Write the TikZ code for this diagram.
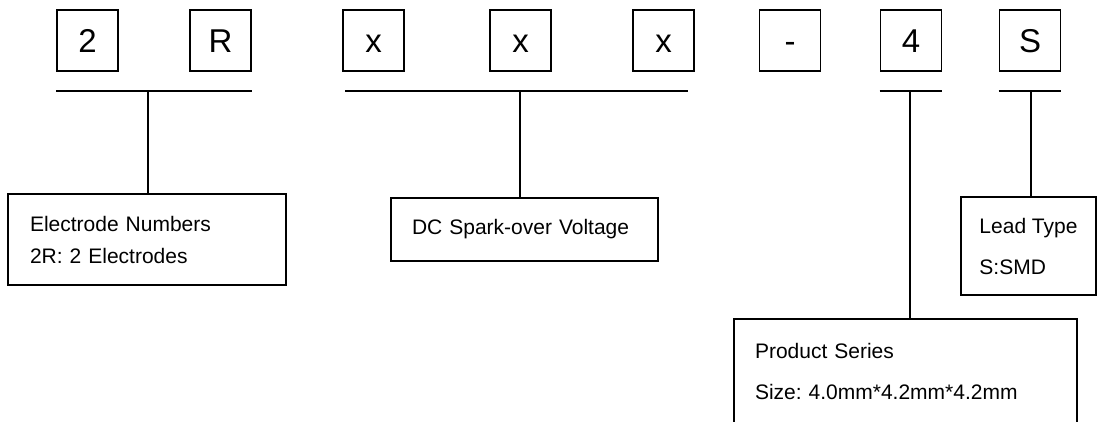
\documentclass[tikz,border=0pt]{standalone}
\usepackage{fontspec}
\setmainfont{Liberation Sans}
\frenchspacing
\usetikzlibrary{positioning, calc}
\tikzset{
    charbox/.style={rectangle, draw=black, line width=1.6pt, minimum width=61pt, minimum height=61pt, inner sep=0pt, text height=24pt, text depth=0pt, text centered, font=\fontsize{33}{40}\selectfont},
    descbox/.style={rectangle, draw=black, line width=1.6pt, align=left, inner ysep=0pt, inner xsep=21pt},
    bar/.style={line width=1.6pt}
}
\begin{document}
\begin{tikzpicture}[x=1pt, y=-1pt]
                \clip (0,0) rectangle (1097,421);
                \useasboundingbox (0,0) rectangle (1097,421);

                % Part number characters
                \node (ch2) [charbox] at (87.5, 40.5) {2};
                \node (chR) [charbox] at (220.5, 40.5) {R};
                \node (chxa) [charbox] at (373.5, 40.5) {x};
                \node (chxb) [charbox] at (520.5, 40.5) {x};
                \node (chxc) [charbox] at (663.5, 40.5) {x};
                \node (chdash) [charbox] at (790, 40.5) {-};
                \node (ch4) [charbox] at (911, 40.5) {4};
                \node (chS) [charbox] at (1030, 40.5) {S};

                % Junctions under the groups
                \coordinate (j_en) at (148, 91);
                \coordinate (j_dc) at (520, 91);
                \coordinate (j_ser) at (910, 91);
                \coordinate (j_lead) at (1031, 91);

                % Description boxes
                \node (desc_en) [descbox, inner xsep=22pt, text width=234pt, minimum height=91pt, font=\fontsize{21}{32}\selectfont] at (147, 239.5) {Electrode Numbers \\ 2R: 2 Electrodes};
                \node (desc_dc) [descbox, text width=225pt, minimum height=63pt, font=\fontsize{21}{32}\selectfont] at (524.5, 229.5) {DC Spark-over Voltage};
                \node (desc_lead) [descbox, inner xsep=0pt, minimum width=135pt, minimum height=98pt, font=\fontsize{21}{41}\selectfont] at (1028.5, 246) {Lead Type \\ S:SMD};
                \node (desc_ser) [descbox, text width=301pt, minimum height=105pt, font=\fontsize{21}{41}\selectfont] at (905.5, 371.5) {Product Series \\ Size: 4.0mm*4.2mm*4.2mm};

                % Bars
                \draw [bar] (ch2.west |- j_en) -- (chR.east |- j_en);
                \draw [bar] ([xshift=3pt]chxa.west |- j_dc) -- ([xshift=-7pt]chxc.east |- j_dc);
                \draw [bar] (ch4.west |- j_ser) -- (ch4.east |- j_ser);
                \draw [bar] (chS.west |- j_lead) -- (chS.east |- j_lead);

                % Stems
                \draw [bar] (j_en) -- (j_en |- desc_en.north);
                \draw [bar] (j_dc) -- (j_dc |- desc_dc.north);
                \draw [bar] (j_ser) -- (j_ser |- desc_ser.north);
                \draw [bar] (j_lead) -- (j_lead |- desc_lead.north);

            \end{tikzpicture}
\end{document}
